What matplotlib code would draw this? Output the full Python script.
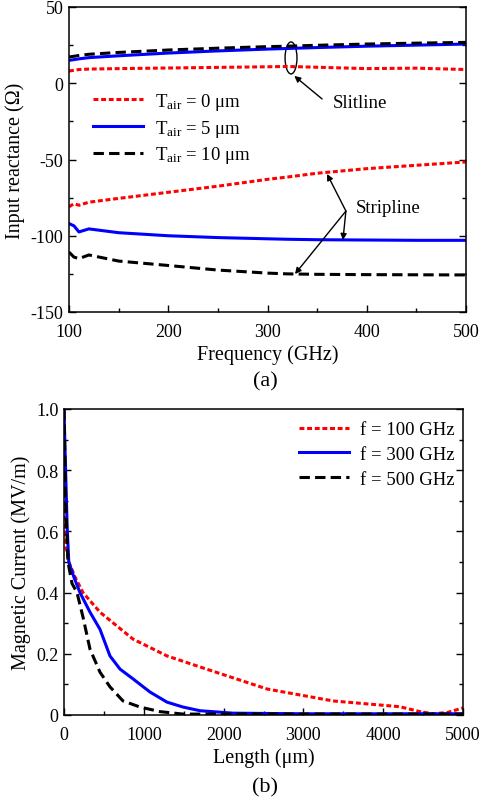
import matplotlib
matplotlib.use("Agg")
import matplotlib.pyplot as plt
from matplotlib.patches import Ellipse
from matplotlib.ticker import MultipleLocator, FixedLocator

plt.rcParams['font.family'] = ['Liberation Serif', 'DejaVu Serif']
plt.rcParams['mathtext.fontset'] = 'custom'
plt.rcParams['mathtext.rm'] = 'Liberation Serif'
plt.rcParams['mathtext.it'] = 'Liberation Serif:italic'
plt.rcParams['axes.unicode_minus'] = False
plt.rcParams['font.size'] = 14

# ---------------- Panel (a) data ----------------
freq = [100, 105, 110, 120, 150, 200, 250, 300, 320, 350, 400, 450, 500]
slit_t0 = [8, 8.5, 9, 9.3, 9.6, 10, 10.4, 10.8, 11, 10.5, 9.6, 9.9, 9.0]
slit_t5 = [15, 15.5, 16, 16.8, 18, 19.8, 21.2, 22.4, 22.8, 23.4, 24.3, 25, 25.7]
slit_t10 = [17.2, 17.7, 18.2, 19, 20.2, 21.8, 23, 24, 24.3, 24.9, 25.7, 26.3, 26.8]
strip_t0 = [-81, -79, -80, -78, -75.5, -71.5, -67.5, -63, -61.5, -59, -56, -53.8, -51.6]
strip_t5 = [-92, -93.5, -97.5, -95.5, -98, -100, -101.2, -102, -102.3, -102.6, -102.8, -103, -103]
strip_t10 = [-110.7, -114, -115, -112.6, -116.6, -119.5, -122.5, -124.5, -125, -125.3, -125.5, -125.6, -125.7]
legend_a = [r'$\mathrm{T}_{\mathrm{air}}$ = 0 μm', r'$\mathrm{T}_{\mathrm{air}}$ = 5 μm', r'$\mathrm{T}_{\mathrm{air}}$ = 10 μm']

# ---------------- Panel (b) data ----------------
len_red = [0, 10, 25, 60, 140, 238, 451, 865, 1291, 1704, 2544, 3371, 4210, 4461, 4624, 4800, 5000]
cur_red = [1.0, 0.75, 0.55, 0.5, 0.45, 0.40, 0.336, 0.248, 0.193, 0.157, 0.085, 0.046, 0.027, 0.011, 0.004, 0.008, 0.023]
len_blue = [0, 20, 40, 60, 125, 200, 326, 451, 576, 702, 865, 1078, 1291, 1491, 1704, 2118, 3000, 4000, 5000]
cur_blue = [1.0, 0.8, 0.61, 0.5, 0.45, 0.4, 0.336, 0.28, 0.193, 0.15, 0.118, 0.075, 0.042, 0.026, 0.014, 0.006, 0.004, 0.004, 0.004]
len_black = [0, 20, 50, 100, 163, 238, 326, 451, 576, 739, 952, 1203, 1491, 2000, 3000, 4000, 5000]
cur_black = [1.0, 0.7, 0.5, 0.43, 0.40, 0.32, 0.215, 0.14, 0.092, 0.046, 0.026, 0.011, 0.003, 0.003, 0.003, 0.003, 0.003]
legend_b = ['f = 100 GHz', 'f = 300 GHz', 'f = 500 GHz']

RED = '#ff0000'
BLUE = '#0000ff'
LW = 2.2
red_ls = (0, (1.6, 0.9))
black_ls = (0, (3.4, 1.7))
TICK_FS = 13
LABEL_FS = 14.5
LEG_FS = 13.5

fig = plt.figure(figsize=(4.79, 8.03), dpi=100)

def style_axes(ax):
    for s in ax.spines.values():
        s.set_linewidth(1.1)
    ax.tick_params(which='both', direction='in', top=False, right=True,
                   labelsize=TICK_FS, width=1.0)
    ax.tick_params(axis='x', which='both', pad=8)
    ax.tick_params(axis='y', which='both', pad=4)
    ax.tick_params(which='major', length=5)
    ax.tick_params(which='minor', length=3)

# ---------- (a) ----------
ax1 = fig.add_axes([69/479, 1-313/803, 397/479, 305/803])
ax1.plot(freq, slit_t0, color=RED, lw=LW, ls=red_ls, label=legend_a[0])
ax1.plot(freq, slit_t5, color=BLUE, lw=LW, label=legend_a[1])
ax1.plot(freq, slit_t10, color='black', lw=LW, ls=black_ls, label=legend_a[2])
ax1.plot(freq, strip_t0, color=RED, lw=LW, ls=red_ls)
ax1.plot(freq, strip_t5, color=BLUE, lw=LW)
ax1.plot(freq, strip_t10, color='black', lw=LW, ls=black_ls)
ax1.set_xlim(100, 500)
ax1.set_ylim(-150, 50)
ax1.xaxis.set_major_locator(MultipleLocator(100))
ax1.xaxis.set_minor_locator(MultipleLocator(50))
ax1.yaxis.set_major_locator(MultipleLocator(50))
ax1.yaxis.set_minor_locator(MultipleLocator(25))
style_axes(ax1)
ax1.set_xlabel('Frequency (GHz)', fontsize=LABEL_FS, labelpad=3)
ax1.set_ylabel('Input reactance (Ω)', fontsize=LABEL_FS, labelpad=4)
ax1.legend(loc='upper left', bbox_to_anchor=(0.06, 0.725), frameon=False,
           fontsize=LEG_FS, handlelength=2.7, handletextpad=0.6, labelspacing=0.3,
           borderaxespad=0, borderpad=0)
ax1.add_patch(Ellipse((323.7, 16.6), 12, 21, fill=False, lw=1.0, color='black'))
arrow = dict(arrowstyle='-|>', color='black', lw=1.0, mutation_scale=9, shrinkA=0, shrinkB=0)
ax1.annotate('', xy=(327, 4.8), xytext=(355, -10.3), arrowprops=arrow)
ax1.text(366, -12.3, 'Slitline', fontsize=LEG_FS, va='center', ha='left')
for hx, hy in [(360, -59.5), (376, -102.8), (327.7, -125.1)]:
    ax1.annotate('', xy=(hx, hy), xytext=(379, -83.8), arrowprops=arrow)
ax1.text(389, -81.8, 'Stripline', fontsize=LEG_FS, va='center', ha='left')
fig.text(265/479, 1-382/803, '(a)', fontsize=16, ha='center', va='center')

# ---------- (b) ----------
ax2 = fig.add_axes([64/479, 1-716/803, 399/479, 306/803])
ax2.plot(len_red, cur_red, color=RED, lw=LW, ls=red_ls, label=legend_b[0])
ax2.plot(len_blue, cur_blue, color=BLUE, lw=LW, label=legend_b[1])
ax2.plot(len_black, cur_black, color='black', lw=LW, ls=black_ls, label=legend_b[2])
ax2.set_xlim(0, 5000)
ax2.set_ylim(0, 1.0)
ax2.xaxis.set_major_locator(MultipleLocator(1000))
ax2.xaxis.set_minor_locator(MultipleLocator(500))
ax2.yaxis.set_major_locator(FixedLocator([0, 0.2, 0.4, 0.6, 0.8, 1.0]))
ax2.yaxis.set_minor_locator(MultipleLocator(0.1))
ax2.set_yticklabels(['0', '0.2', '0.4', '0.6', '0.8', '1.0'])
style_axes(ax2)
ax2.set_xlabel('Length (μm)', fontsize=LABEL_FS, labelpad=3)
ax2.set_ylabel('Magnetic Current (MV/m)', fontsize=LABEL_FS, labelpad=4)
ax2.legend(loc='upper right', bbox_to_anchor=(0.98, 0.96), frameon=False,
           fontsize=LEG_FS, handlelength=2.7, handletextpad=0.6, labelspacing=0.4,
           borderaxespad=0, borderpad=0)
fig.text(265/479, 1-788/803, '(b)', fontsize=16, ha='center', va='center')

fig.savefig('out.png', dpi=100)
